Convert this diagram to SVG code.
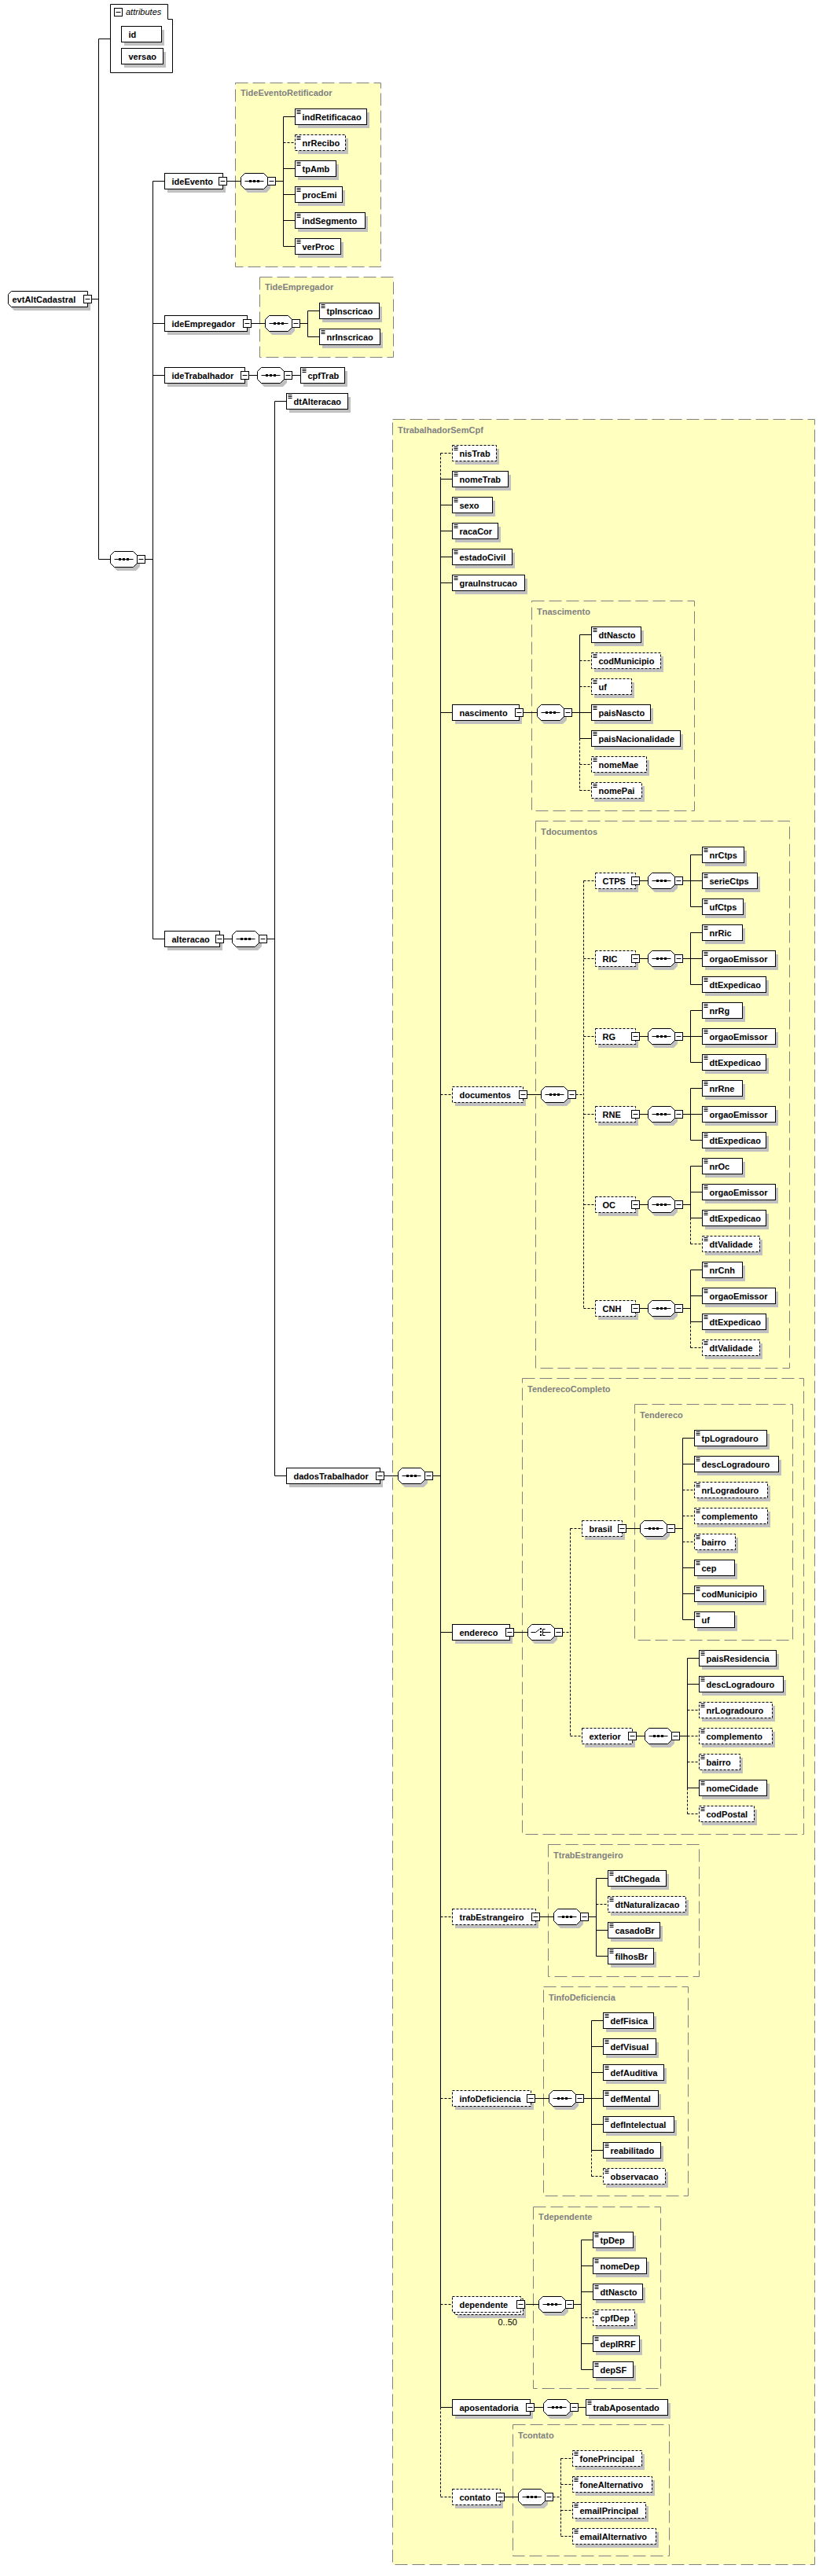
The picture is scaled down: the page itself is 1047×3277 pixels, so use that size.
<svg xmlns="http://www.w3.org/2000/svg" width="1047" height="3277" viewBox="0 0 1047 3277">
<style>
.sh{fill:#c0c0c0}
.bx{fill:#fff;stroke:#000}
.o{stroke-dasharray:3,2}
.c{fill:none;stroke:#000}
.d{stroke-dasharray:3,2}
.tb{fill:#ffffc0;stroke:#808080;stroke-dasharray:16,6}
.ln{fill:none;stroke:#000}
text{font-family:'Liberation Sans',Arial,sans-serif;font-size:11px;font-weight:bold;fill:#000}
.ty{fill:#808080}
.it{font-style:italic;font-weight:normal}
.nm{font-weight:normal}
</style>
<defs>
<path id="ic" d="M2,-8H7M2,-6H7M2,-4H7" class="ln"/>
<g id="mn"><rect class="bx" x="-5" y="-5" width="10" height="10"/><path class="ln" d="M-3,0H3"/></g>
<g id="seq">
<path class="sh" d="M8.5,-5.5H32.5L37.5,-0.5V9.5L32.5,14.5H8.5L3.5,9.5V-0.5Z"/>
<path class="bx" d="M5,-10H29L34,-5V5L29,10H5L0,5V-5Z"/>
<path class="ln" d="M5,0H29"/>
<rect x="10.5" y="-1.5" width="3" height="3"/><rect x="15.5" y="-1.5" width="3" height="3"/><rect x="20.5" y="-1.5" width="3" height="3"/>
<use href="#mn" x="39"/>
</g>
<g id="cho">
<path class="sh" d="M8.5,-5.5H32.5L37.5,-0.5V9.5L32.5,14.5H8.5L3.5,9.5V-0.5Z"/>
<path class="bx" d="M5,-10H29L34,-5V5L29,10H5L0,5V-5Z"/>
<path class="ln" d="M4,0H10L15,-4"/>
<rect x="15.5" y="-5.5" width="2" height="2"/><rect x="15.5" y="-1.5" width="2" height="2"/><rect x="15.5" y="2.5" width="2" height="2"/>
<path class="ln" d="M19,-4H22M19,-4V4H22M19,0H29"/>
<use href="#mn" x="39"/>
</g>
</defs>
<rect width="1047" height="3277" fill="#fff"/>

<g id="types">
<g id="TideEventoRetificador"><rect class="tb" x="299.5" y="105.5" width="185" height="234"/><text class="ty" x="306" y="122">TideEventoRetificador</text></g>
<g id="TideEmpregador"><rect class="tb" x="330.5" y="352.5" width="170" height="102"/><text class="ty" x="337" y="369">TideEmpregador</text></g>
<g id="TtrabalhadorSemCpf"><rect class="tb" x="499.5" y="533.5" width="537" height="2729"/><text class="ty" x="506" y="551">TtrabalhadorSemCpf</text></g>
<g id="Tnascimento"><rect class="tb" x="676.5" y="764.5" width="207" height="267"/><text class="ty" x="683" y="782">Tnascimento</text></g>
<g id="Tdocumentos"><rect class="tb" x="681.5" y="1044.5" width="323" height="696"/><text class="ty" x="688" y="1062">Tdocumentos</text></g>
<g id="TenderecoCompleto"><rect class="tb" x="664.5" y="1753.5" width="358" height="580"/><text class="ty" x="671" y="1771">TenderecoCompleto</text></g>
<g id="Tendereco"><rect class="tb" x="807.5" y="1786.5" width="201" height="300"/><text class="ty" x="814" y="1804">Tendereco</text></g>
<g id="TtrabEstrangeiro"><rect class="tb" x="697.5" y="2346.5" width="192" height="168"/><text class="ty" x="704" y="2364">TtrabEstrangeiro</text></g>
<g id="TinfoDeficiencia"><rect class="tb" x="691.5" y="2527.5" width="184" height="266"/><text class="ty" x="698" y="2545">TinfoDeficiencia</text></g>
<g id="Tdependente"><rect class="tb" x="678.5" y="2807.5" width="162" height="231"/><text class="ty" x="685" y="2824">Tdependente</text></g>
<g id="Tcontato"><rect class="tb" x="652.5" y="3084.5" width="199" height="167"/><text class="ty" x="659" y="3102">Tcontato</text></g>
</g>

<g id="connectors">
<path class="c" d="M116.5,380.5H125.5M125.5,49.5V711.5M125.5,49.5H140.5M125.5,711.5H140.5M184.5,711.5H194.5M194.5,230.5V1194.5M194.5,230.5H209.5M194.5,411.5H209.5M194.5,477.5H209.5M194.5,1194.5H209.5
M288.5,230.5H306.5M350.5,230.5H360.5M360.5,148.5V313.5M360.5,148.5H375.5M360.5,214.5H375.5M360.5,247.5H375.5M360.5,280.5H375.5M360.5,313.5H375.5
M319.5,411.5H337.5M381.5,411.5H391.5M391.5,395.5V428.5M391.5,395.5H406.5M391.5,428.5H406.5
M316.5,477.5H327.5M371.5,477.5H382.5
M284.5,1194.5H295.5M339.5,1194.5H349.5M349.5,510.5V1877.5M349.5,510.5H364.5M349.5,1877.5H364.5
M488.5,1877.5H506.5M550.5,1877.5H560.5M560.5,609.5V3062.5
M560.5,609.5H575.5M560.5,642.5H575.5M560.5,675.5H575.5M560.5,708.5H575.5M560.5,741.5H575.5M560.5,906.5H575.5M560.5,2076.5H575.5M560.5,3062.5H575.5
M665.5,906.5H683.5M727.5,906.5H737.5M737.5,807.5V939.5M737.5,807.5H752.5M737.5,906.5H752.5M737.5,939.5H752.5
M670.5,1392.5H688.5
M813.5,1120.5H824.5M868.5,1120.5H878.5M813.5,1219.5H824.5M868.5,1219.5H878.5M813.5,1318.5H824.5M868.5,1318.5H878.5M813.5,1417.5H824.5M868.5,1417.5H878.5M813.5,1532.5H824.5M868.5,1532.5H878.5M813.5,1664.5H824.5M868.5,1664.5H878.5
M878.5,1087.5V1153.5M878.5,1087.5H893.5M878.5,1120.5H893.5M878.5,1153.5H893.5
M878.5,1186.5V1252.5M878.5,1186.5H893.5M878.5,1219.5H893.5M878.5,1252.5H893.5
M878.5,1285.5V1351.5M878.5,1285.5H893.5M878.5,1318.5H893.5M878.5,1351.5H893.5
M878.5,1384.5V1450.5M878.5,1384.5H893.5M878.5,1417.5H893.5M878.5,1450.5H893.5
M878.5,1483.5V1549.5M878.5,1483.5H893.5M878.5,1516.5H893.5M878.5,1549.5H893.5
M878.5,1615.5V1681.5M878.5,1615.5H893.5M878.5,1648.5H893.5M878.5,1681.5H893.5
M653.5,2076.5H671.5
M796.5,1944.5H814.5M858.5,1944.5H868.5M868.5,1829.5V2060.5M868.5,1829.5H883.5M868.5,1862.5H883.5M868.5,1994.5H883.5M868.5,2027.5H883.5M868.5,2060.5H883.5
M809.5,2208.5H820.5M864.5,2208.5H874.5M874.5,2109.5V2274.5M874.5,2109.5H889.5M874.5,2142.5H889.5M874.5,2274.5H889.5
M686.5,2438.5H704.5M748.5,2438.5H758.5M758.5,2389.5V2488.5M758.5,2389.5H773.5M758.5,2455.5H773.5M758.5,2488.5H773.5
M680.5,2669.5H698.5M742.5,2669.5H752.5M752.5,2570.5V2735.5M752.5,2570.5H767.5M752.5,2603.5H767.5M752.5,2636.5H767.5M752.5,2669.5H767.5M752.5,2702.5H767.5M752.5,2735.5H767.5
M667.5,2931.5H685.5M729.5,2931.5H739.5M739.5,2849.5V3014.5M739.5,2849.5H754.5M739.5,2882.5H754.5M739.5,2915.5H754.5M739.5,2981.5H754.5M739.5,3014.5H754.5
M679.5,3062.5H691.5M735.5,3062.5H745.5
M641.5,3176.5H659.5"/>
<path class="c d" d="M360.5,181.5H375.5
M560.5,576.5V609.5M560.5,3062.5V3176.5M560.5,576.5H575.5M560.5,1392.5H575.5M560.5,2438.5H575.5M560.5,2669.5H575.5M560.5,2931.5H575.5M560.5,3176.5H575.5
M737.5,939.5V1005.5M737.5,840.5H752.5M737.5,873.5H752.5M737.5,972.5H752.5M737.5,1005.5H752.5
M732.5,1392.5H742.5M742.5,1120.5V1664.5M742.5,1120.5H757.5M742.5,1219.5H757.5M742.5,1318.5H757.5M742.5,1417.5H757.5M742.5,1532.5H757.5M742.5,1664.5H757.5
M878.5,1549.5V1582.5M878.5,1582.5H893.5M878.5,1681.5V1714.5M878.5,1714.5H893.5
M715.5,2076.5H725.5M725.5,1944.5V2208.5M725.5,1944.5H740.5M725.5,2208.5H740.5
M868.5,1895.5H883.5M868.5,1928.5H883.5M868.5,1961.5H883.5
M874.5,2274.5V2307.5M874.5,2175.5H889.5M874.5,2208.5H889.5M874.5,2241.5H889.5M874.5,2307.5H889.5
M758.5,2422.5H773.5
M752.5,2735.5V2768.5M752.5,2768.5H767.5
M739.5,2948.5H754.5
M703.5,3176.5H713.5M713.5,3127.5V3226.5M713.5,3127.5H728.5M713.5,3160.5H728.5M713.5,3193.5H728.5M713.5,3226.5H728.5"/>
</g>

<g id="compositors">
<use id="s-root" href="#seq" x="140.5" y="711.5"/>
<use id="s-ideEvento" href="#seq" x="306.5" y="230.5"/>
<use id="s-ideEmpregador" href="#seq" x="337.5" y="411.5"/>
<use id="s-ideTrabalhador" href="#seq" x="327.5" y="477.5"/>
<use id="s-alteracao" href="#seq" x="295.5" y="1194.5"/>
<use id="s-dadosTrabalhador" href="#seq" x="506.5" y="1877.5"/>
<use id="s-nascimento" href="#seq" x="683.5" y="906.5"/>
<use id="s-documentos" href="#seq" x="688.5" y="1392.5"/>
<use id="s-CTPS" href="#seq" x="824.5" y="1120.5"/>
<use id="s-RIC" href="#seq" x="824.5" y="1219.5"/>
<use id="s-RG" href="#seq" x="824.5" y="1318.5"/>
<use id="s-RNE" href="#seq" x="824.5" y="1417.5"/>
<use id="s-OC" href="#seq" x="824.5" y="1532.5"/>
<use id="s-CNH" href="#seq" x="824.5" y="1664.5"/>
<use id="c-endereco" href="#cho" x="671.5" y="2076.5"/>
<use id="s-brasil" href="#seq" x="814.5" y="1944.5"/>
<use id="s-exterior" href="#seq" x="820.5" y="2208.5"/>
<use id="s-trabEstrangeiro" href="#seq" x="704.5" y="2438.5"/>
<use id="s-infoDeficiencia" href="#seq" x="698.5" y="2669.5"/>
<use id="s-dependente" href="#seq" x="685.5" y="2931.5"/>
<use id="s-aposentadoria" href="#seq" x="691.5" y="3062.5"/>
<use id="s-contato" href="#seq" x="659.5" y="3176.5"/>
</g>

<g id="evtAltCadastral" transform="translate(10.5,380.5)"><path class="sh" d="M7.5,-5.5H104.5V14.5H7.5L3.5,10.5V-1.5Z"/><path class="bx" d="M4,-10H101V10H4L0,6V-6Z"/><use href="#mn" x="101"/><text x="5" y="4">evtAltCadastral</text></g>

<g id="attributes"><path class="bx" d="M140.5,5.5H213.5V24.5H219.5V92.5H140.5Z"/><use href="#mn" x="150.5" y="15.5"/><text class="it" x="160" y="19">attributes</text>
<g id="attr-id" transform="translate(154.5,43.5)"><rect class="sh" x="3.5" y="-5.5" width="51" height="20"/><rect class="bx" y="-10" width="51" height="20"/><text x="9" y="4">id</text></g>
<g id="attr-versao" transform="translate(154.5,71.5)"><rect class="sh" x="3.5" y="-5.5" width="53" height="20"/><rect class="bx" y="-10" width="53" height="20"/><text x="9" y="4">versao</text></g>
</g>

<g id="ideEvento" transform="translate(209.5,230.5)"><rect class="sh" x="3.5" y="-5.5" width="74" height="20"/><rect class="bx" y="-10" width="74" height="20"/><use href="#mn" x="74"/><text x="9" y="4">ideEvento</text></g>
<g id="indRetificacao" transform="translate(375.5,148.5)"><rect class="sh" x="3.5" y="-5.5" width="91" height="20"/><rect class="bx" y="-10" width="91" height="20"/><use href="#ic"/><text x="9" y="4">indRetificacao</text></g>
<g id="nrRecibo" transform="translate(375.5,181.5)"><rect class="sh" x="3.5" y="-5.5" width="64" height="20"/><rect class="bx o" y="-10" width="64" height="20"/><use href="#ic"/><text x="9" y="4">nrRecibo</text></g>
<g id="tpAmb" transform="translate(375.5,214.5)"><rect class="sh" x="3.5" y="-5.5" width="52" height="20"/><rect class="bx" y="-10" width="52" height="20"/><use href="#ic"/><text x="9" y="4">tpAmb</text></g>
<g id="procEmi" transform="translate(375.5,247.5)"><rect class="sh" x="3.5" y="-5.5" width="60" height="20"/><rect class="bx" y="-10" width="60" height="20"/><use href="#ic"/><text x="9" y="4">procEmi</text></g>
<g id="indSegmento" transform="translate(375.5,280.5)"><rect class="sh" x="3.5" y="-5.5" width="89" height="20"/><rect class="bx" y="-10" width="89" height="20"/><use href="#ic"/><text x="9" y="4">indSegmento</text></g>
<g id="verProc" transform="translate(375.5,313.5)"><rect class="sh" x="3.5" y="-5.5" width="58" height="20"/><rect class="bx" y="-10" width="58" height="20"/><use href="#ic"/><text x="9" y="4">verProc</text></g>

<g id="ideEmpregador" transform="translate(209.5,411.5)"><rect class="sh" x="3.5" y="-5.5" width="105" height="20"/><rect class="bx" y="-10" width="105" height="20"/><use href="#mn" x="105"/><text x="9" y="4">ideEmpregador</text></g>
<g id="tpInscricao" transform="translate(406.5,395.5)"><rect class="sh" x="3.5" y="-5.5" width="76" height="20"/><rect class="bx" y="-10" width="76" height="20"/><use href="#ic"/><text x="9" y="4">tpInscricao</text></g>
<g id="nrInscricao" transform="translate(406.5,428.5)"><rect class="sh" x="3.5" y="-5.5" width="77" height="20"/><rect class="bx" y="-10" width="77" height="20"/><use href="#ic"/><text x="9" y="4">nrInscricao</text></g>

<g id="ideTrabalhador" transform="translate(209.5,477.5)"><rect class="sh" x="3.5" y="-5.5" width="102" height="20"/><rect class="bx" y="-10" width="102" height="20"/><use href="#mn" x="102"/><text x="9" y="4">ideTrabalhador</text></g>
<g id="cpfTrab" transform="translate(382.5,477.5)"><rect class="sh" x="3.5" y="-5.5" width="56" height="20"/><rect class="bx" y="-10" width="56" height="20"/><use href="#ic"/><text x="9" y="4">cpfTrab</text></g>

<g id="alteracao" transform="translate(209.5,1194.5)"><rect class="sh" x="3.5" y="-5.5" width="70" height="20"/><rect class="bx" y="-10" width="70" height="20"/><use href="#mn" x="70"/><text x="9" y="4">alteracao</text></g>
<g id="dtAlteracao" transform="translate(364.5,510.5)"><rect class="sh" x="3.5" y="-5.5" width="78" height="20"/><rect class="bx" y="-10" width="78" height="20"/><use href="#ic"/><text x="9" y="4">dtAlteracao</text></g>
<g id="dadosTrabalhador" transform="translate(364.5,1877.5)"><rect class="sh" x="3.5" y="-5.5" width="119" height="20"/><rect class="bx" y="-10" width="119" height="20"/><use href="#mn" x="119"/><text x="9" y="4">dadosTrabalhador</text></g>

<g id="nisTrab" transform="translate(575.5,576.5)"><rect class="sh" x="3.5" y="-5.5" width="56" height="20"/><rect class="bx o" y="-10" width="56" height="20"/><use href="#ic"/><text x="9" y="4">nisTrab</text></g>
<g id="nomeTrab" transform="translate(575.5,609.5)"><rect class="sh" x="3.5" y="-5.5" width="71" height="20"/><rect class="bx" y="-10" width="71" height="20"/><use href="#ic"/><text x="9" y="4">nomeTrab</text></g>
<g id="sexo" transform="translate(575.5,642.5)"><rect class="sh" x="3.5" y="-5.5" width="51" height="20"/><rect class="bx" y="-10" width="51" height="20"/><use href="#ic"/><text x="9" y="4">sexo</text></g>
<g id="racaCor" transform="translate(575.5,675.5)"><rect class="sh" x="3.5" y="-5.5" width="58" height="20"/><rect class="bx" y="-10" width="58" height="20"/><use href="#ic"/><text x="9" y="4">racaCor</text></g>
<g id="estadoCivil" transform="translate(575.5,708.5)"><rect class="sh" x="3.5" y="-5.5" width="76" height="20"/><rect class="bx" y="-10" width="76" height="20"/><use href="#ic"/><text x="9" y="4">estadoCivil</text></g>
<g id="grauInstrucao" transform="translate(575.5,741.5)"><rect class="sh" x="3.5" y="-5.5" width="92" height="20"/><rect class="bx" y="-10" width="92" height="20"/><use href="#ic"/><text x="9" y="4">grauInstrucao</text></g>

<g id="nascimento" transform="translate(575.5,906.5)"><rect class="sh" x="3.5" y="-5.5" width="85" height="20"/><rect class="bx" y="-10" width="85" height="20"/><use href="#mn" x="85"/><text x="9" y="4">nascimento</text></g>
<g id="dtNascto" transform="translate(752.5,807.5)"><rect class="sh" x="3.5" y="-5.5" width="63" height="20"/><rect class="bx" y="-10" width="63" height="20"/><use href="#ic"/><text x="9" y="4">dtNascto</text></g>
<g id="nasc-codMunicipio" transform="translate(752.5,840.5)"><rect class="sh" x="3.5" y="-5.5" width="88" height="20"/><rect class="bx o" y="-10" width="88" height="20"/><use href="#ic"/><text x="9" y="4">codMunicipio</text></g>
<g id="nasc-uf" transform="translate(752.5,873.5)"><rect class="sh" x="3.5" y="-5.5" width="51" height="20"/><rect class="bx o" y="-10" width="51" height="20"/><use href="#ic"/><text x="9" y="4">uf</text></g>
<g id="paisNascto" transform="translate(752.5,906.5)"><rect class="sh" x="3.5" y="-5.5" width="75" height="20"/><rect class="bx" y="-10" width="75" height="20"/><use href="#ic"/><text x="9" y="4">paisNascto</text></g>
<g id="paisNacionalidade" transform="translate(752.5,939.5)"><rect class="sh" x="3.5" y="-5.5" width="113" height="20"/><rect class="bx" y="-10" width="113" height="20"/><use href="#ic"/><text x="9" y="4">paisNacionalidade</text></g>
<g id="nomeMae" transform="translate(752.5,972.5)"><rect class="sh" x="3.5" y="-5.5" width="70" height="20"/><rect class="bx o" y="-10" width="70" height="20"/><use href="#ic"/><text x="9" y="4">nomeMae</text></g>
<g id="nomePai" transform="translate(752.5,1005.5)"><rect class="sh" x="3.5" y="-5.5" width="64" height="20"/><rect class="bx o" y="-10" width="64" height="20"/><use href="#ic"/><text x="9" y="4">nomePai</text></g>

<g id="documentos" transform="translate(575.5,1392.5)"><rect class="sh" x="3.5" y="-5.5" width="90" height="20"/><rect class="bx o" y="-10" width="90" height="20"/><use href="#mn" x="90"/><text x="9" y="4">documentos</text></g>
<g id="CTPS" transform="translate(757.5,1120.5)"><rect class="sh" x="3.5" y="-5.5" width="51" height="20"/><rect class="bx o" y="-10" width="51" height="20"/><use href="#mn" x="51"/><text x="9" y="4">CTPS</text></g>
<g id="nrCtps" transform="translate(893.5,1087.5)"><rect class="sh" x="3.5" y="-5.5" width="53" height="20"/><rect class="bx" y="-10" width="53" height="20"/><use href="#ic"/><text x="9" y="4">nrCtps</text></g>
<g id="serieCtps" transform="translate(893.5,1120.5)"><rect class="sh" x="3.5" y="-5.5" width="70" height="20"/><rect class="bx" y="-10" width="70" height="20"/><use href="#ic"/><text x="9" y="4">serieCtps</text></g>
<g id="ufCtps" transform="translate(893.5,1153.5)"><rect class="sh" x="3.5" y="-5.5" width="52" height="20"/><rect class="bx" y="-10" width="52" height="20"/><use href="#ic"/><text x="9" y="4">ufCtps</text></g>
<g id="RIC" transform="translate(757.5,1219.5)"><rect class="sh" x="3.5" y="-5.5" width="51" height="20"/><rect class="bx o" y="-10" width="51" height="20"/><use href="#mn" x="51"/><text x="9" y="4">RIC</text></g>
<g id="nrRic" transform="translate(893.5,1186.5)"><rect class="sh" x="3.5" y="-5.5" width="51" height="20"/><rect class="bx" y="-10" width="51" height="20"/><use href="#ic"/><text x="9" y="4">nrRic</text></g>
<g id="RIC-orgaoEmissor" transform="translate(893.5,1219.5)"><rect class="sh" x="3.5" y="-5.5" width="93" height="20"/><rect class="bx" y="-10" width="93" height="20"/><use href="#ic"/><text x="9" y="4">orgaoEmissor</text></g>
<g id="RIC-dtExpedicao" transform="translate(893.5,1252.5)"><rect class="sh" x="3.5" y="-5.5" width="81" height="20"/><rect class="bx" y="-10" width="81" height="20"/><use href="#ic"/><text x="9" y="4">dtExpedicao</text></g>
<g id="RG" transform="translate(757.5,1318.5)"><rect class="sh" x="3.5" y="-5.5" width="51" height="20"/><rect class="bx o" y="-10" width="51" height="20"/><use href="#mn" x="51"/><text x="9" y="4">RG</text></g>
<g id="nrRg" transform="translate(893.5,1285.5)"><rect class="sh" x="3.5" y="-5.5" width="51" height="20"/><rect class="bx" y="-10" width="51" height="20"/><use href="#ic"/><text x="9" y="4">nrRg</text></g>
<g id="RG-orgaoEmissor" transform="translate(893.5,1318.5)"><rect class="sh" x="3.5" y="-5.5" width="93" height="20"/><rect class="bx" y="-10" width="93" height="20"/><use href="#ic"/><text x="9" y="4">orgaoEmissor</text></g>
<g id="RG-dtExpedicao" transform="translate(893.5,1351.5)"><rect class="sh" x="3.5" y="-5.5" width="81" height="20"/><rect class="bx" y="-10" width="81" height="20"/><use href="#ic"/><text x="9" y="4">dtExpedicao</text></g>
<g id="RNE" transform="translate(757.5,1417.5)"><rect class="sh" x="3.5" y="-5.5" width="51" height="20"/><rect class="bx o" y="-10" width="51" height="20"/><use href="#mn" x="51"/><text x="9" y="4">RNE</text></g>
<g id="nrRne" transform="translate(893.5,1384.5)"><rect class="sh" x="3.5" y="-5.5" width="51" height="20"/><rect class="bx" y="-10" width="51" height="20"/><use href="#ic"/><text x="9" y="4">nrRne</text></g>
<g id="RNE-orgaoEmissor" transform="translate(893.5,1417.5)"><rect class="sh" x="3.5" y="-5.5" width="93" height="20"/><rect class="bx" y="-10" width="93" height="20"/><use href="#ic"/><text x="9" y="4">orgaoEmissor</text></g>
<g id="RNE-dtExpedicao" transform="translate(893.5,1450.5)"><rect class="sh" x="3.5" y="-5.5" width="81" height="20"/><rect class="bx" y="-10" width="81" height="20"/><use href="#ic"/><text x="9" y="4">dtExpedicao</text></g>
<g id="OC" transform="translate(757.5,1532.5)"><rect class="sh" x="3.5" y="-5.5" width="51" height="20"/><rect class="bx o" y="-10" width="51" height="20"/><use href="#mn" x="51"/><text x="9" y="4">OC</text></g>
<g id="nrOc" transform="translate(893.5,1483.5)"><rect class="sh" x="3.5" y="-5.5" width="51" height="20"/><rect class="bx" y="-10" width="51" height="20"/><use href="#ic"/><text x="9" y="4">nrOc</text></g>
<g id="OC-orgaoEmissor" transform="translate(893.5,1516.5)"><rect class="sh" x="3.5" y="-5.5" width="93" height="20"/><rect class="bx" y="-10" width="93" height="20"/><use href="#ic"/><text x="9" y="4">orgaoEmissor</text></g>
<g id="OC-dtExpedicao" transform="translate(893.5,1549.5)"><rect class="sh" x="3.5" y="-5.5" width="81" height="20"/><rect class="bx" y="-10" width="81" height="20"/><use href="#ic"/><text x="9" y="4">dtExpedicao</text></g>
<g id="OC-dtValidade" transform="translate(893.5,1582.5)"><rect class="sh" x="3.5" y="-5.5" width="73" height="20"/><rect class="bx o" y="-10" width="73" height="20"/><use href="#ic"/><text x="9" y="4">dtValidade</text></g>
<g id="CNH" transform="translate(757.5,1664.5)"><rect class="sh" x="3.5" y="-5.5" width="51" height="20"/><rect class="bx o" y="-10" width="51" height="20"/><use href="#mn" x="51"/><text x="9" y="4">CNH</text></g>
<g id="nrCnh" transform="translate(893.5,1615.5)"><rect class="sh" x="3.5" y="-5.5" width="51" height="20"/><rect class="bx" y="-10" width="51" height="20"/><use href="#ic"/><text x="9" y="4">nrCnh</text></g>
<g id="CNH-orgaoEmissor" transform="translate(893.5,1648.5)"><rect class="sh" x="3.5" y="-5.5" width="93" height="20"/><rect class="bx" y="-10" width="93" height="20"/><use href="#ic"/><text x="9" y="4">orgaoEmissor</text></g>
<g id="CNH-dtExpedicao" transform="translate(893.5,1681.5)"><rect class="sh" x="3.5" y="-5.5" width="81" height="20"/><rect class="bx" y="-10" width="81" height="20"/><use href="#ic"/><text x="9" y="4">dtExpedicao</text></g>
<g id="CNH-dtValidade" transform="translate(893.5,1714.5)"><rect class="sh" x="3.5" y="-5.5" width="73" height="20"/><rect class="bx o" y="-10" width="73" height="20"/><use href="#ic"/><text x="9" y="4">dtValidade</text></g>

<g id="endereco" transform="translate(575.5,2076.5)"><rect class="sh" x="3.5" y="-5.5" width="73" height="20"/><rect class="bx" y="-10" width="73" height="20"/><use href="#mn" x="73"/><text x="9" y="4">endereco</text></g>
<g id="brasil" transform="translate(740.5,1944.5)"><rect class="sh" x="3.5" y="-5.5" width="51" height="20"/><rect class="bx o" y="-10" width="51" height="20"/><use href="#mn" x="51"/><text x="9" y="4">brasil</text></g>
<g id="br-tpLogradouro" transform="translate(883.5,1829.5)"><rect class="sh" x="3.5" y="-5.5" width="92" height="20"/><rect class="bx" y="-10" width="92" height="20"/><use href="#ic"/><text x="9" y="4">tpLogradouro</text></g>
<g id="br-descLogradouro" transform="translate(883.5,1862.5)"><rect class="sh" x="3.5" y="-5.5" width="107" height="20"/><rect class="bx" y="-10" width="107" height="20"/><use href="#ic"/><text x="9" y="4">descLogradouro</text></g>
<g id="br-nrLogradouro" transform="translate(883.5,1895.5)"><rect class="sh" x="3.5" y="-5.5" width="93" height="20"/><rect class="bx o" y="-10" width="93" height="20"/><use href="#ic"/><text x="9" y="4">nrLogradouro</text></g>
<g id="br-complemento" transform="translate(883.5,1928.5)"><rect class="sh" x="3.5" y="-5.5" width="93" height="20"/><rect class="bx o" y="-10" width="93" height="20"/><use href="#ic"/><text x="9" y="4">complemento</text></g>
<g id="br-bairro" transform="translate(883.5,1961.5)"><rect class="sh" x="3.5" y="-5.5" width="52" height="20"/><rect class="bx o" y="-10" width="52" height="20"/><use href="#ic"/><text x="9" y="4">bairro</text></g>
<g id="br-cep" transform="translate(883.5,1994.5)"><rect class="sh" x="3.5" y="-5.5" width="51" height="20"/><rect class="bx" y="-10" width="51" height="20"/><use href="#ic"/><text x="9" y="4">cep</text></g>
<g id="br-codMunicipio" transform="translate(883.5,2027.5)"><rect class="sh" x="3.5" y="-5.5" width="88" height="20"/><rect class="bx" y="-10" width="88" height="20"/><use href="#ic"/><text x="9" y="4">codMunicipio</text></g>
<g id="br-uf" transform="translate(883.5,2060.5)"><rect class="sh" x="3.5" y="-5.5" width="51" height="20"/><rect class="bx" y="-10" width="51" height="20"/><use href="#ic"/><text x="9" y="4">uf</text></g>
<g id="exterior" transform="translate(740.5,2208.5)"><rect class="sh" x="3.5" y="-5.5" width="64" height="20"/><rect class="bx o" y="-10" width="64" height="20"/><use href="#mn" x="64"/><text x="9" y="4">exterior</text></g>
<g id="ex-paisResidencia" transform="translate(889.5,2109.5)"><rect class="sh" x="3.5" y="-5.5" width="98" height="20"/><rect class="bx" y="-10" width="98" height="20"/><use href="#ic"/><text x="9" y="4">paisResidencia</text></g>
<g id="ex-descLogradouro" transform="translate(889.5,2142.5)"><rect class="sh" x="3.5" y="-5.5" width="107" height="20"/><rect class="bx" y="-10" width="107" height="20"/><use href="#ic"/><text x="9" y="4">descLogradouro</text></g>
<g id="ex-nrLogradouro" transform="translate(889.5,2175.5)"><rect class="sh" x="3.5" y="-5.5" width="93" height="20"/><rect class="bx o" y="-10" width="93" height="20"/><use href="#ic"/><text x="9" y="4">nrLogradouro</text></g>
<g id="ex-complemento" transform="translate(889.5,2208.5)"><rect class="sh" x="3.5" y="-5.5" width="93" height="20"/><rect class="bx o" y="-10" width="93" height="20"/><use href="#ic"/><text x="9" y="4">complemento</text></g>
<g id="ex-bairro" transform="translate(889.5,2241.5)"><rect class="sh" x="3.5" y="-5.5" width="52" height="20"/><rect class="bx o" y="-10" width="52" height="20"/><use href="#ic"/><text x="9" y="4">bairro</text></g>
<g id="ex-nomeCidade" transform="translate(889.5,2274.5)"><rect class="sh" x="3.5" y="-5.5" width="86" height="20"/><rect class="bx" y="-10" width="86" height="20"/><use href="#ic"/><text x="9" y="4">nomeCidade</text></g>
<g id="ex-codPostal" transform="translate(889.5,2307.5)"><rect class="sh" x="3.5" y="-5.5" width="70" height="20"/><rect class="bx o" y="-10" width="70" height="20"/><use href="#ic"/><text x="9" y="4">codPostal</text></g>

<g id="trabEstrangeiro" transform="translate(575.5,2438.5)"><rect class="sh" x="3.5" y="-5.5" width="106" height="20"/><rect class="bx o" y="-10" width="106" height="20"/><use href="#mn" x="106"/><text x="9" y="4">trabEstrangeiro</text></g>
<g id="dtChegada" transform="translate(773.5,2389.5)"><rect class="sh" x="3.5" y="-5.5" width="74" height="20"/><rect class="bx" y="-10" width="74" height="20"/><use href="#ic"/><text x="9" y="4">dtChegada</text></g>
<g id="dtNaturalizacao" transform="translate(773.5,2422.5)"><rect class="sh" x="3.5" y="-5.5" width="99" height="20"/><rect class="bx o" y="-10" width="99" height="20"/><use href="#ic"/><text x="9" y="4">dtNaturalizacao</text></g>
<g id="casadoBr" transform="translate(773.5,2455.5)"><rect class="sh" x="3.5" y="-5.5" width="66" height="20"/><rect class="bx" y="-10" width="66" height="20"/><use href="#ic"/><text x="9" y="4">casadoBr</text></g>
<g id="filhosBr" transform="translate(773.5,2488.5)"><rect class="sh" x="3.5" y="-5.5" width="58" height="20"/><rect class="bx" y="-10" width="58" height="20"/><use href="#ic"/><text x="9" y="4">filhosBr</text></g>

<g id="infoDeficiencia" transform="translate(575.5,2669.5)"><rect class="sh" x="3.5" y="-5.5" width="100" height="20"/><rect class="bx o" y="-10" width="100" height="20"/><use href="#mn" x="100"/><text x="9" y="4">infoDeficiencia</text></g>
<g id="defFisica" transform="translate(767.5,2570.5)"><rect class="sh" x="3.5" y="-5.5" width="64" height="20"/><rect class="bx" y="-10" width="64" height="20"/><use href="#ic"/><text x="9" y="4">defFisica</text></g>
<g id="defVisual" transform="translate(767.5,2603.5)"><rect class="sh" x="3.5" y="-5.5" width="67" height="20"/><rect class="bx" y="-10" width="67" height="20"/><use href="#ic"/><text x="9" y="4">defVisual</text></g>
<g id="defAuditiva" transform="translate(767.5,2636.5)"><rect class="sh" x="3.5" y="-5.5" width="77" height="20"/><rect class="bx" y="-10" width="77" height="20"/><use href="#ic"/><text x="9" y="4">defAuditiva</text></g>
<g id="defMental" transform="translate(767.5,2669.5)"><rect class="sh" x="3.5" y="-5.5" width="70" height="20"/><rect class="bx" y="-10" width="70" height="20"/><use href="#ic"/><text x="9" y="4">defMental</text></g>
<g id="defIntelectual" transform="translate(767.5,2702.5)"><rect class="sh" x="3.5" y="-5.5" width="90" height="20"/><rect class="bx" y="-10" width="90" height="20"/><use href="#ic"/><text x="9" y="4">defIntelectual</text></g>
<g id="reabilitado" transform="translate(767.5,2735.5)"><rect class="sh" x="3.5" y="-5.5" width="73" height="20"/><rect class="bx" y="-10" width="73" height="20"/><use href="#ic"/><text x="9" y="4">reabilitado</text></g>
<g id="observacao" transform="translate(767.5,2768.5)"><rect class="sh" x="3.5" y="-5.5" width="79" height="20"/><rect class="bx o" y="-10" width="79" height="20"/><use href="#ic"/><text x="9" y="4">observacao</text></g>

<g id="dependente" transform="translate(575.5,2931.5)"><rect class="sh" x="6.5" y="-2.5" width="87" height="20"/><rect class="bx o" x="3" y="-7" width="87" height="20"/><rect class="bx o" y="-10" width="87" height="20"/><use href="#mn" x="87"/><text x="9" y="4">dependente</text><text class="nm" x="58" y="26">0..50</text></g>
<g id="tpDep" transform="translate(754.5,2849.5)"><rect class="sh" x="3.5" y="-5.5" width="51" height="20"/><rect class="bx" y="-10" width="51" height="20"/><use href="#ic"/><text x="9" y="4">tpDep</text></g>
<g id="nomeDep" transform="translate(754.5,2882.5)"><rect class="sh" x="3.5" y="-5.5" width="68" height="20"/><rect class="bx" y="-10" width="68" height="20"/><use href="#ic"/><text x="9" y="4">nomeDep</text></g>
<g id="dep-dtNascto" transform="translate(754.5,2915.5)"><rect class="sh" x="3.5" y="-5.5" width="63" height="20"/><rect class="bx" y="-10" width="63" height="20"/><use href="#ic"/><text x="9" y="4">dtNascto</text></g>
<g id="cpfDep" transform="translate(754.5,2948.5)"><rect class="sh" x="3.5" y="-5.5" width="53" height="20"/><rect class="bx o" y="-10" width="53" height="20"/><use href="#ic"/><text x="9" y="4">cpfDep</text></g>
<g id="depIRRF" transform="translate(754.5,2981.5)"><rect class="sh" x="3.5" y="-5.5" width="59" height="20"/><rect class="bx" y="-10" width="59" height="20"/><use href="#ic"/><text x="9" y="4">depIRRF</text></g>
<g id="depSF" transform="translate(754.5,3014.5)"><rect class="sh" x="3.5" y="-5.5" width="51" height="20"/><rect class="bx" y="-10" width="51" height="20"/><use href="#ic"/><text x="9" y="4">depSF</text></g>

<g id="aposentadoria" transform="translate(575.5,3062.5)"><rect class="sh" x="3.5" y="-5.5" width="99" height="20"/><rect class="bx" y="-10" width="99" height="20"/><use href="#mn" x="99"/><text x="9" y="4">aposentadoria</text></g>
<g id="trabAposentado" transform="translate(745.5,3062.5)"><rect class="sh" x="3.5" y="-5.5" width="104" height="20"/><rect class="bx" y="-10" width="104" height="20"/><use href="#ic"/><text x="9" y="4">trabAposentado</text></g>

<g id="contato" transform="translate(575.5,3176.5)"><rect class="sh" x="3.5" y="-5.5" width="61" height="20"/><rect class="bx o" y="-10" width="61" height="20"/><use href="#mn" x="61"/><text x="9" y="4">contato</text></g>
<g id="fonePrincipal" transform="translate(728.5,3127.5)"><rect class="sh" x="3.5" y="-5.5" width="88" height="20"/><rect class="bx o" y="-10" width="88" height="20"/><use href="#ic"/><text x="9" y="4">fonePrincipal</text></g>
<g id="foneAlternativo" transform="translate(728.5,3160.5)"><rect class="sh" x="3.5" y="-5.5" width="101" height="20"/><rect class="bx o" y="-10" width="101" height="20"/><use href="#ic"/><text x="9" y="4">foneAlternativo</text></g>
<g id="emailPrincipal" transform="translate(728.5,3193.5)"><rect class="sh" x="3.5" y="-5.5" width="93" height="20"/><rect class="bx o" y="-10" width="93" height="20"/><use href="#ic"/><text x="9" y="4">emailPrincipal</text></g>
<g id="emailAlternativo" transform="translate(728.5,3226.5)"><rect class="sh" x="3.5" y="-5.5" width="106" height="20"/><rect class="bx o" y="-10" width="106" height="20"/><use href="#ic"/><text x="9" y="4">emailAlternativo</text></g>
</svg>
